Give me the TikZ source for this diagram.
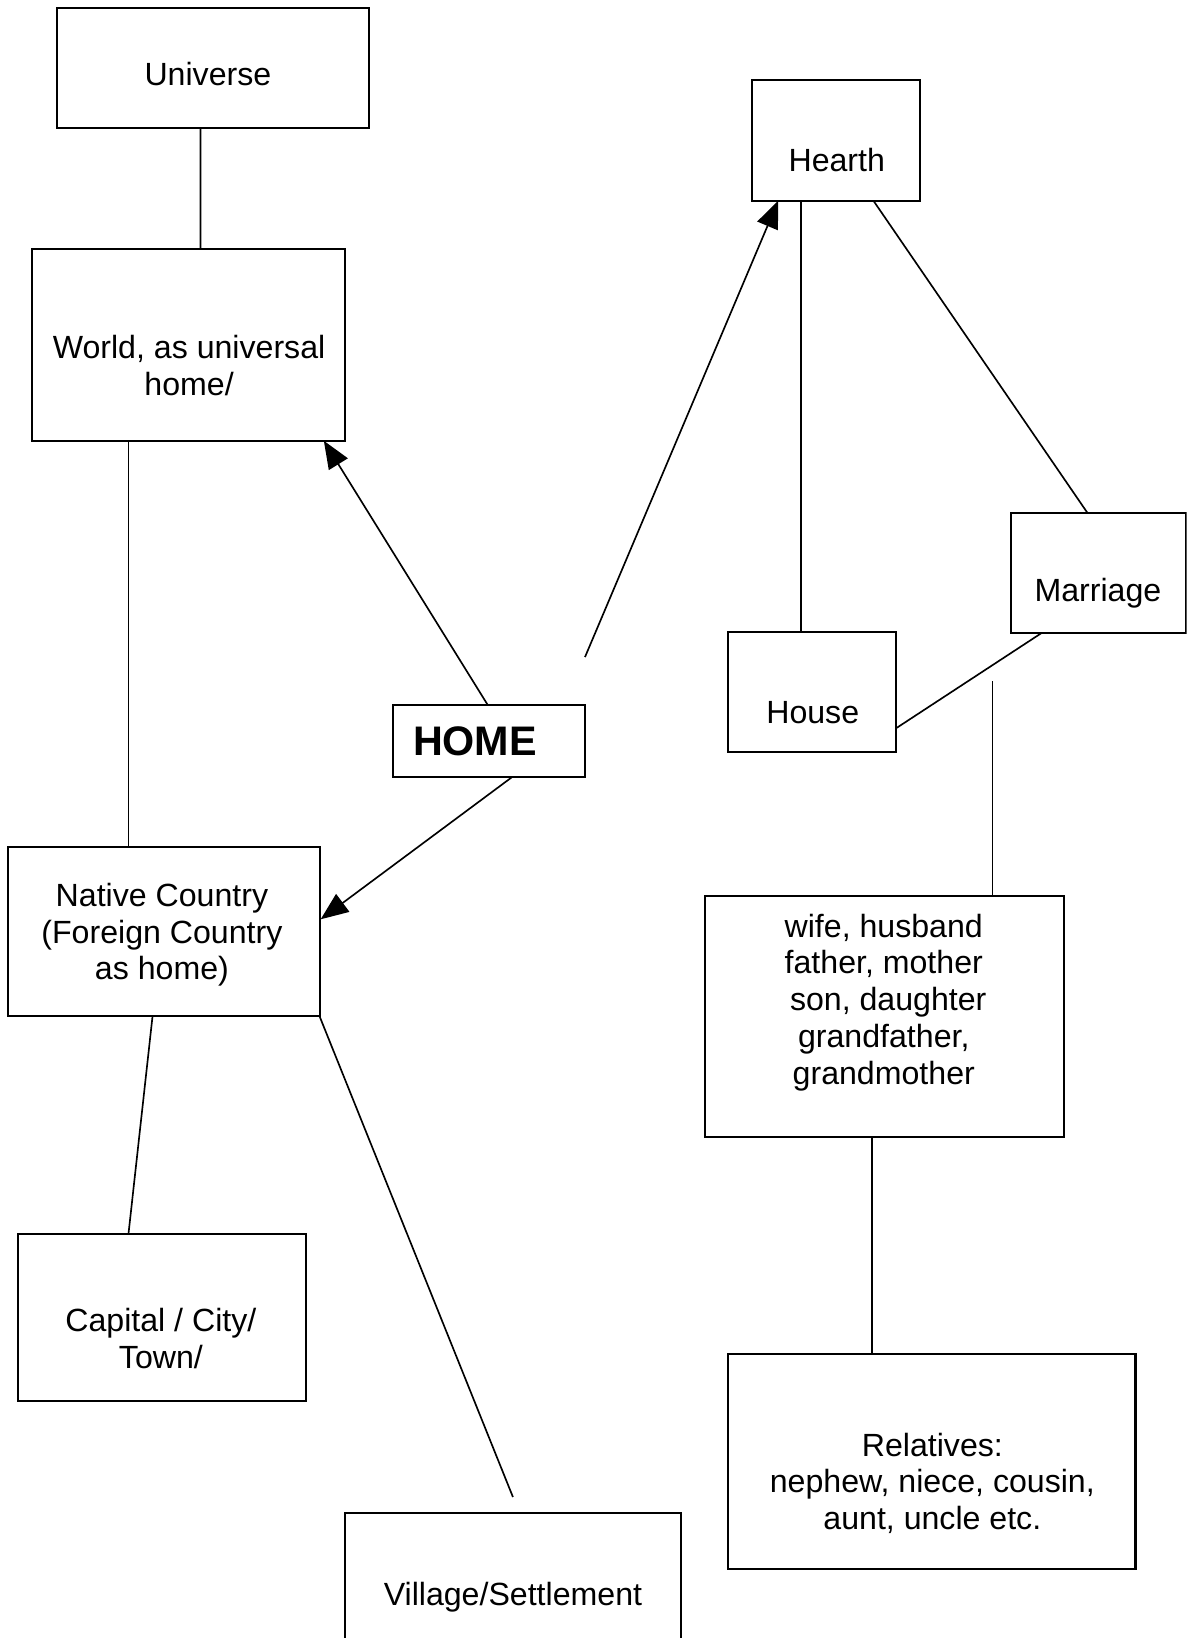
\documentclass[tikz,border=0pt]{standalone}
\usepackage{fontspec}
\setmainfont{Liberation Sans}
\usetikzlibrary{calc}
\usetikzlibrary{arrows.meta}

\begin{document}
\begin{tikzpicture}[x=0.02cm, y=-0.02cm,
		box/.style={draw, line width=1.1pt, inner sep=0pt, outer sep=0pt},
		txt/.style={inner sep=0pt, align=center, font=\fontsize{17.5}{20}\selectfont},
		link/.style={line width=0.9pt},
		arrow/.style={line width=0.9pt, -{Triangle[length=15pt, width=12pt]}}]
				\useasboundingbox (0,0) rectangle (1136,1568);
				\clip (0,0) rectangle (1136,1568);

				% boxes
				\node[box, minimum width=5.96cm, minimum height=2.30cm] (universe) at (204,65.5) {};
				\node[box, minimum width=5.98cm, minimum height=3.68cm] (world) at (180.5,330) {};
				\node[box, minimum width=3.22cm, minimum height=2.30cm] (hearth) at (800.5,134.5) {};
				\node[box, minimum width=3.34cm, minimum height=2.30cm] (marriage) at (1051.5,548.5) {};
				\node[box, minimum width=3.22cm, minimum height=2.30cm] (house) at (777.5,662.5) {};
				\node[box, minimum width=3.68cm, minimum height=1.38cm] (home) at (468,709.5) {};
				\node[box, minimum width=5.96cm, minimum height=3.24cm] (native) at (157,892) {};
				\node[box, minimum width=5.52cm, minimum height=3.20cm] (capital) at (155,1261) {};
				\node[box, minimum width=6.44cm, minimum height=2.64cm] (village) at (491,1514) {};
				\node[box, minimum width=6.88cm, minimum height=4.60cm] (family) at (847,973) {};
				\node[box, minimum width=7.80cm, minimum height=4.12cm] (relatives) at (892,1399) {};

				% texts
				\node[txt] (t-universe) at ($(universe) + (-5,5.5)$) {Universe};
				\node[txt] (t-world) at ($(world) + (0.5,20)$) {World, as universal\\home/};
				\node[txt] (t-hearth) at ($(hearth) + (0.5,18.5)$) {Hearth};
				\node[txt] (t-marriage) at ($(marriage) + (-0.5,19.5)$) {Marriage};
				\node[txt] (t-house) at ($(house) + (0.5,19.5)$) {House};
				\node[txt, anchor=west, font=\fontsize{22.5}{26}\selectfont\bfseries] (t-home) at ($(home.west) + (19,0.5)$) {HOME};
				\node[txt] (t-native) at ($(native) + (-2,3)$) {Native Country\\(Foreign Country\\as home)};
				\node[txt] (t-capital) at ($(capital) + (-1,20)$) {Capital / City/\\Town/};
				\node[txt] (t-village) at ($(village.north) + (0,81)$) {Village/Settlement};
				\node[txt] (t-family) at ($(family) + (-1,-13.5)$) {wife, husband\\father, mother\\~son, daughter\\grandfather,\\grandmother};
				\node[txt] (t-relatives) at ($(relatives) + (0.5,21)$) {Relatives:\\nephew, niece, cousin,\\aunt, uncle etc.};

				% free ends
				\coordinate (home-up) at ($(home.north east) + (0,-46)$);
				\coordinate (family-up) at ($(family.north) + (103,-206)$);
				\coordinate (village-up) at ($(village.north) + (0,-15)$);

				% edges
				\draw[link] ($(universe.south) + (-12,0)$) -- ($(world.north) + (11.5,0)$);
				\draw[link] ($(world.south) + (-57.5,0)$) -- ($(native.north) + (-34,0)$);
				\draw[arrow] ($(home.north) + (-1,0)$) -- ($(world.south) + (129.5,0)$);
				\draw[arrow] (home-up) -- ($(hearth.south) + (-55.5,0)$);
				\draw[arrow] ($(home.south) + (22,0)$) -- ($(native.east) + (1,-12)$);

				\draw[link] ($(hearth.south) + (-33.5,0)$) -- ($(house.north) + (-10.5,0)$);
				\draw[link] ($(hearth.south) + (35.5,0)$) -- ($(marriage.north) + (-10.5,0)$);
				\draw[link] ($(marriage.south) + (-54.5,0)$) -- ($(house.east) + (0,34.5)$);
				\draw[link] (family-up) -- ($(family.north) + (103,0)$);
				\draw[link] ($(family.south) + (-12,0)$) -- ($(relatives.north) + (-57,0)$);

				\draw[link] ($(native.south) + (-11,0)$) -- ($(capital.north) + (-32,0)$);
				\draw[link] (native.south east) -- (village-up);
			\end{tikzpicture}
\end{document}
